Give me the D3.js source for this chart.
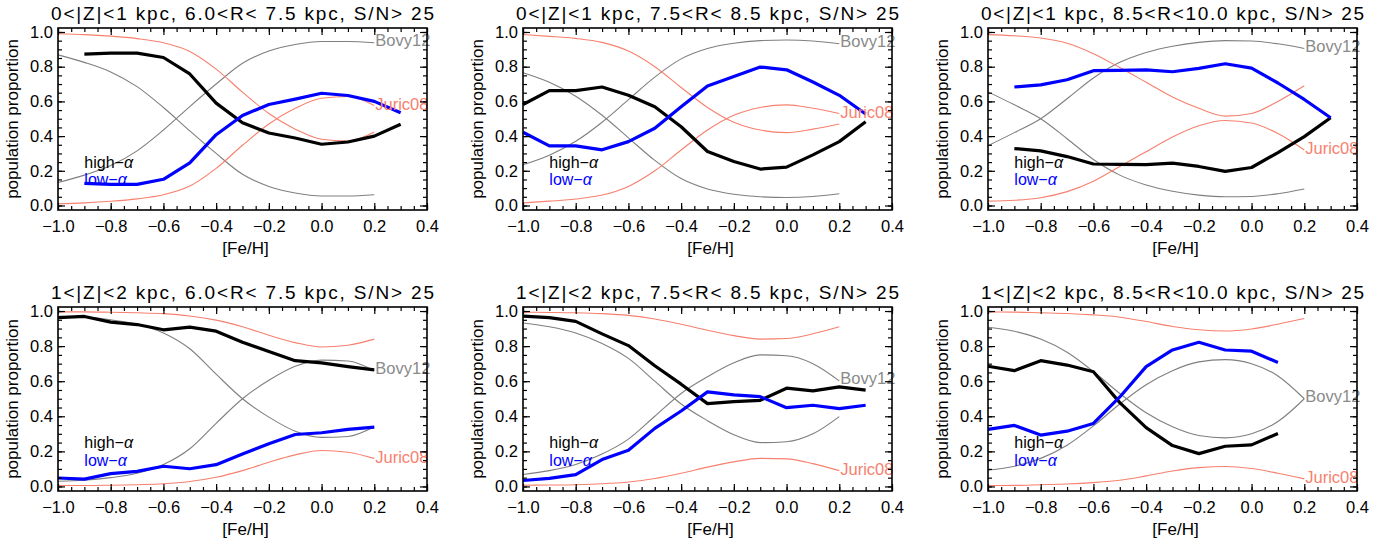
<!DOCTYPE html>
<html><head><meta charset="utf-8">
<script src="https://cdn.jsdelivr.net/npm/d3@7"></script>
<style>
html,body{margin:0;padding:0;background:#fff;}
svg text{font-family:"Liberation Sans",Arial,sans-serif;}
</style></head>
<body>
<svg id="c" width="1395" height="541"></svg>
<script>
// ---------- DATA ----------
const titles = [
  "0<|Z|<1 kpc, 6.0<R< 7.5 kpc, S/N> 25",
  "0<|Z|<1 kpc, 7.5<R< 8.5 kpc, S/N> 25",
  "0<|Z|<1 kpc, 8.5<R<10.0 kpc, S/N> 25",
  "1<|Z|<2 kpc, 6.0<R< 7.5 kpc, S/N> 25",
  "1<|Z|<2 kpc, 7.5<R< 8.5 kpc, S/N> 25",
  "1<|Z|<2 kpc, 8.5<R<10.0 kpc, S/N> 25"
];
const xTickLabels = [-1.0, -0.8, -0.6, -0.4, -0.2, 0.0, 0.2, 0.4];
const yTickLabels = [0.0, 0.2, 0.4, 0.6, 0.8, 1.0];
const seriesNames = ["high-", "low-"];
const modelNames = ["Bovy12", "Juric08"];

// model curves are sampled on this [Fe/H] grid
const modelFeH = [-1.0,-0.9,-0.8,-0.7,-0.6,-0.5,-0.4,-0.3,-0.2,-0.1,0.0,0.1,0.2];

// observed [Fe/H] bins per panel
const feH = [
  [-0.9,-0.8,-0.7,-0.6,-0.5,-0.4,-0.3,-0.2,-0.1,0.0,0.1,0.2,0.3],
  [-1.0,-0.9,-0.8,-0.7,-0.6,-0.5,-0.4,-0.3,-0.2,-0.1,0.0,0.1,0.2,0.3],
  [-0.9,-0.8,-0.7,-0.6,-0.5,-0.4,-0.3,-0.2,-0.1,0.0,0.1,0.2,0.3],
  [-1.0,-0.9,-0.8,-0.7,-0.6,-0.5,-0.4,-0.3,-0.2,-0.1,0.0,0.1,0.2],
  [-1.0,-0.9,-0.8,-0.7,-0.6,-0.5,-0.4,-0.3,-0.2,-0.1,0.0,0.1,0.2,0.3],
  [-1.0,-0.9,-0.8,-0.7,-0.6,-0.5,-0.4,-0.3,-0.2,-0.1,0.0,0.1]
];
const highAlpha = [
  [0.872,0.878,0.878,0.853,0.758,0.590,0.477,0.418,0.389,0.353,0.366,0.400,0.468],
  [0.582,0.662,0.662,0.683,0.635,0.569,0.454,0.311,0.254,0.210,0.221,0.292,0.368,0.483],
  [0.328,0.315,0.282,0.239,0.237,0.235,0.244,0.225,0.197,0.219,0.305,0.397,0.506],
  [0.962,0.969,0.937,0.923,0.893,0.908,0.885,0.822,0.769,0.717,0.704,0.683,0.665],
  [0.971,0.962,0.941,0.870,0.803,0.688,0.583,0.472,0.484,0.491,0.560,0.545,0.568,0.549],
  [0.685,0.660,0.717,0.692,0.654,0.478,0.335,0.233,0.187,0.229,0.237,0.302]
];
const lowAlpha = [
  [0.128,0.122,0.122,0.151,0.246,0.408,0.519,0.582,0.613,0.647,0.634,0.600,0.534],
  [0.422,0.344,0.344,0.321,0.368,0.445,0.569,0.689,0.744,0.798,0.782,0.712,0.635,0.527],
  [0.683,0.695,0.725,0.777,0.779,0.782,0.771,0.790,0.817,0.792,0.706,0.611,0.506],
  [0.048,0.042,0.073,0.086,0.115,0.101,0.124,0.185,0.243,0.296,0.306,0.325,0.338],
  [0.034,0.046,0.067,0.153,0.206,0.331,0.430,0.539,0.522,0.512,0.449,0.463,0.444,0.463],
  [0.325,0.348,0.293,0.315,0.359,0.510,0.683,0.778,0.822,0.778,0.771,0.707]
];
// Bovy12 model: thick-disk (falling) and thin-disk (rising) fractions
const bovyThick = [
  [0.868,0.825,0.770,0.685,0.565,0.430,0.300,0.180,0.110,0.072,0.055,0.055,0.062],
  [0.765,0.710,0.630,0.520,0.390,0.260,0.155,0.095,0.065,0.050,0.046,0.052,0.068],
  [0.655,0.580,0.500,0.385,0.265,0.175,0.118,0.082,0.060,0.050,0.052,0.068,0.095],
  [0.970,0.965,0.950,0.925,0.875,0.785,0.640,0.500,0.395,0.315,0.280,0.285,0.340],
  [0.932,0.910,0.875,0.815,0.730,0.600,0.470,0.375,0.295,0.250,0.255,0.300,0.398],
  [0.908,0.885,0.840,0.765,0.655,0.530,0.420,0.340,0.290,0.277,0.300,0.370,0.500]
];
const bovyThin = [
  [0.132,0.175,0.230,0.315,0.435,0.570,0.700,0.820,0.890,0.928,0.945,0.945,0.938],
  [0.235,0.290,0.370,0.480,0.610,0.740,0.845,0.905,0.935,0.950,0.954,0.948,0.932],
  [0.345,0.420,0.500,0.615,0.735,0.825,0.882,0.918,0.940,0.950,0.948,0.932,0.905],
  [0.030,0.035,0.050,0.075,0.125,0.215,0.360,0.500,0.605,0.685,0.720,0.715,0.660],
  [0.068,0.090,0.125,0.185,0.270,0.400,0.530,0.625,0.705,0.750,0.745,0.700,0.602],
  [0.092,0.115,0.160,0.235,0.345,0.470,0.580,0.660,0.710,0.723,0.700,0.630,0.500]
];
// Juric08 model
const juricThick = [
  [0.990,0.985,0.976,0.962,0.938,0.888,0.786,0.653,0.530,0.440,0.382,0.372,0.424],
  [0.985,0.975,0.963,0.940,0.890,0.800,0.680,0.565,0.480,0.435,0.420,0.440,0.470],
  [0.985,0.978,0.965,0.935,0.875,0.795,0.710,0.625,0.560,0.515,0.530,0.600,0.690],
  [0.995,0.995,0.993,0.990,0.985,0.972,0.948,0.910,0.862,0.820,0.795,0.805,0.840],
  [0.993,0.992,0.990,0.985,0.975,0.955,0.925,0.890,0.860,0.840,0.843,0.870,0.910],
  [0.995,0.994,0.990,0.986,0.978,0.965,0.940,0.912,0.893,0.886,0.898,0.925,0.957]
];
const juricThin = [
  [0.010,0.015,0.024,0.038,0.062,0.112,0.214,0.347,0.470,0.560,0.618,0.628,0.576],
  [0.015,0.025,0.037,0.060,0.110,0.200,0.320,0.435,0.520,0.565,0.580,0.560,0.530],
  [0.025,0.030,0.045,0.080,0.140,0.225,0.310,0.395,0.460,0.490,0.475,0.415,0.320],
  [0.005,0.005,0.007,0.010,0.015,0.028,0.052,0.090,0.138,0.180,0.205,0.195,0.160],
  [0.007,0.008,0.010,0.015,0.025,0.045,0.075,0.110,0.140,0.160,0.157,0.130,0.090],
  [0.005,0.006,0.010,0.014,0.022,0.035,0.060,0.088,0.107,0.114,0.102,0.075,0.043]
];

// ---------- LAYOUT ----------
const svg = d3.select("#c");
const colLeft = [58, 523, 988];
const pw = 369;
const rowTop = [28, 307];
const rowH = [182, 184];
const C_GRAY = "#7f7f7f", C_RED = "#f7806e", C_BLUE = "#0000ff";

const fmt = d3.format(".1f");
const xMinor = d3.range(-1.0, 0.4001, 0.05).map(v => +v.toFixed(2));
const yMinor = d3.range(0, 1.0001, 0.05).map(v => +v.toFixed(2));

titles.forEach((title, i) => {
  const r = Math.floor(i / 3), c = i % 3;
  const L = colLeft[c], T = rowTop[r], H = rowH[r];
  const x = d3.scaleLinear().domain([-1.0, 0.4]).range([L, L + pw]);
  const y = d3.scaleLinear().domain([-0.026, 1.023]).range([T + H, T]);
  const g = svg.append("g");

  const line = d3.line().x(d => x(d[0])).y(d => y(d[1])).curve(d3.curveMonotoneX);
  const zip = (xs, ys) => xs.map((v, k) => [v, ys[k]]);

  // model curves
  [[bovyThick[i], C_GRAY], [bovyThin[i], C_GRAY], [juricThick[i], C_RED], [juricThin[i], C_RED]]
    .forEach(([vals, col]) => {
      g.append("path").attr("d", line(zip(modelFeH, vals)))
        .attr("fill", "none").attr("stroke", col).attr("stroke-width", 1.1);
    });

  // observed
  const lin = d3.line().x(d => x(d[0])).y(d => y(d[1]));
  g.append("path").attr("d", lin(zip(feH[i], highAlpha[i])))
    .attr("fill", "none").attr("stroke", "#000").attr("stroke-width", 3.2).attr("stroke-linejoin", "round");
  g.append("path").attr("d", lin(zip(feH[i], lowAlpha[i])))
    .attr("fill", "none").attr("stroke", C_BLUE).attr("stroke-width", 3.2).attr("stroke-linejoin", "round");

  // model labels at the end of the thin-disk curves
  const xe = modelFeH[modelFeH.length - 1];
  g.append("text").attr("x", x(xe) + 1).attr("y", y(bovyThin[i][bovyThin[i].length - 1] + 0.015) + 6)
    .attr("fill", "#8a8a8a").attr("font-size", 16.5).text(modelNames[0]);
  g.append("text").attr("x", x(xe) + 1).attr("y", y(juricThin[i][juricThin[i].length - 1] + 0.01) + 6)
    .attr("fill", C_RED).attr("font-size", 16.5).text(modelNames[1]);

  // legend
  [[seriesNames[0], 0.245, "#000"], [seriesNames[1], 0.145, C_BLUE]].forEach(([nm, yy, col]) => {
    const t = g.append("text").attr("x", x(-0.9)).attr("y", y(yy) + 5).attr("font-size", 16)
      .attr("fill", col);
    t.append("tspan").text(nm.replace("-", "\u2212"));
    t.append("tspan").attr("font-style", "italic").text("α");
  });

  // axes (ticks inward on all four sides)
  const ax = (sel, axis) => { sel.call(axis); sel.select(".domain").remove();
    sel.selectAll(".tick line").attr("stroke", "#000").attr("stroke-width", 1.2);
    sel.selectAll("text").attr("font-family", '"Liberation Sans",Arial,sans-serif').attr("font-size", 16.5).attr("fill", "#000"); };

  ax(g.append("g").attr("transform", `translate(0,${T + H})`),
    d3.axisBottom(x).tickValues(xTickLabels).tickFormat(fmt).tickSizeInner(-7).tickSizeOuter(0).tickPadding(10.5));
  ax(g.append("g").attr("transform", `translate(0,${T + H})`),
    d3.axisBottom(x).tickValues(xMinor).tickFormat("").tickSizeInner(-4).tickSizeOuter(0));
  ax(g.append("g").attr("transform", `translate(0,${T})`),
    d3.axisTop(x).tickValues(xTickLabels).tickFormat("").tickSizeInner(-7).tickSizeOuter(0));
  ax(g.append("g").attr("transform", `translate(0,${T})`),
    d3.axisTop(x).tickValues(xMinor).tickFormat("").tickSizeInner(-4).tickSizeOuter(0));
  ax(g.append("g").attr("transform", `translate(${L},0)`),
    d3.axisLeft(y).tickValues(yTickLabels).tickFormat(fmt).tickSizeInner(-7).tickSizeOuter(0).tickPadding(5));
  ax(g.append("g").attr("transform", `translate(${L},0)`),
    d3.axisLeft(y).tickValues(yMinor).tickFormat("").tickSizeInner(-4).tickSizeOuter(0));
  ax(g.append("g").attr("transform", `translate(${L + pw},0)`),
    d3.axisRight(y).tickValues(yTickLabels).tickFormat("").tickSizeInner(-7).tickSizeOuter(0));
  ax(g.append("g").attr("transform", `translate(${L + pw},0)`),
    d3.axisRight(y).tickValues(yMinor).tickFormat("").tickSizeInner(-4).tickSizeOuter(0));

  g.append("rect").attr("x", L).attr("y", T).attr("width", pw).attr("height", H)
    .attr("fill", "none").attr("stroke", "#000").attr("stroke-width", 1.6);

  // titles
  g.append("text").attr("x", L + pw / 2).attr("y", T - 8).attr("text-anchor", "middle")
    .attr("font-size", 19).attr("textLength", 383).attr("lengthAdjust", "spacing").text(title);
  g.append("text").attr("x", L + pw / 2 + 3).attr("y", T + H + 44).attr("text-anchor", "middle")
    .attr("font-size", 17).text("[Fe/H]");
  g.append("text").attr("transform", `translate(${L - 40},${T + H / 2}) rotate(-90)`)
    .attr("text-anchor", "middle").attr("font-size", 17).text("population proportion");
});
</script>
</body></html>
